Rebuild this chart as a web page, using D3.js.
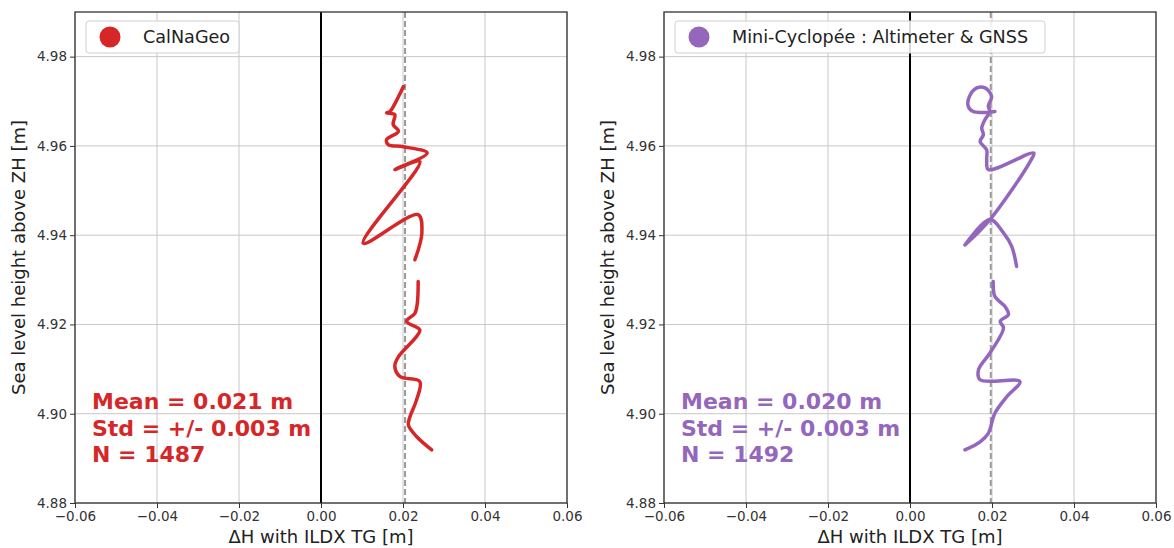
<!DOCTYPE html>
<html><head><meta charset="utf-8">
<script src="https://cdn.jsdelivr.net/npm/d3@7"></script>
<style>body{margin:0;background:#fff}svg{display:block;font-family:"DejaVu Sans",sans-serif}</style>
</head><body><svg id="c" width="1174" height="548"></svg>
<script>
// ---- data ----
const xTicks = [-0.06, -0.04, -0.02, 0.00, 0.02, 0.04, 0.06];
const yTicks = [4.88, 4.90, 4.92, 4.94, 4.96, 4.98];
const xDomain = [-0.06, 0.06];
const yDomain = [4.88, 4.99];

const calnageoUpper = [
  [0.0201,4.9733],[0.0181,4.9696],[0.0168,4.9677],[0.0160,4.9674],[0.0180,4.9670],
  [0.0176,4.9648],[0.0189,4.9633],[0.0160,4.9614],[0.0164,4.9603],[0.0201,4.9598],
  [0.0259,4.9584],[0.0180,4.9547],[0.0241,4.9565],[0.0103,4.9382],[0.0237,4.9446],
  [0.0246,4.9405],[0.0229,4.9345]
];
const calnageoLower = [
  [0.0237,4.9296],[0.0235,4.9248],[0.0229,4.9225],[0.0209,4.9207],[0.0241,4.9188],
  [0.0233,4.9173],[0.0189,4.9128],[0.0180,4.9106],[0.0193,4.9083],[0.0241,4.9072],
  [0.0233,4.9031],[0.0217,4.8993],[0.0213,4.8975],[0.0233,4.8949],[0.0270,4.8919]
];
const cyclopeeUpper = [
  [0.0260,4.9330],[0.0248,4.9375],[0.0228,4.9405],[0.0195,4.9435],[0.0134,4.9378],
  [0.0195,4.9435],[0.0293,4.9565],[0.0302,4.9584],[0.0191,4.9547],[0.0187,4.9569],
  [0.0187,4.9591],[0.0171,4.9610],[0.0179,4.9625],[0.0175,4.9640],[0.0183,4.9659],
  [0.0195,4.9677],[0.0191,4.9689],[0.0199,4.9711],[0.0183,4.9730],[0.0163,4.9730],
  [0.0145,4.9711],[0.0142,4.9689],[0.0154,4.9677],[0.0179,4.9675],[0.0207,4.9677]
];
const cyclopeeLower = [
  [0.0203,4.9296],[0.0207,4.9263],[0.0232,4.9240],[0.0240,4.9222],[0.0220,4.9207],
  [0.0228,4.9192],[0.0195,4.9136],[0.0167,4.9098],[0.0171,4.9076],[0.0268,4.9072],
  [0.0236,4.9038],[0.0207,4.9001],[0.0191,4.8956],[0.0171,4.8937],[0.0134,4.8919]
];
const labels = ["CalNaGeo", "Mini-Cyclopée : Altimeter & GNSS"];
const colors = ["#d62728", "#9467bd"];
const means = [0.0205, 0.0197];
const statLines = [
  ["Mean = 0.021 m", "Std = +/- 0.003 m", "N = 1487"],
  ["Mean = 0.020 m", "Std = +/- 0.003 m", "N = 1492"]
];
const xTitle = "ΔH with ILDX TG [m]";
const yTitle = "Sea level height above ZH [m]";

// ---- drawing ----
const svg = d3.select("#c");
const panels = [
  {x0: 75, x1: 567, segs: [calnageoUpper, calnageoLower], legendW: 153},
  {x0: 664, x1: 1156, segs: [cyclopeeUpper, cyclopeeLower], legendW: 370}
];
const yTop = 12, yBot = 503;

panels.forEach((p, i) => {
  const x = d3.scaleLinear().domain(xDomain).range([p.x0, p.x1]);
  const y = d3.scaleLinear().domain(yDomain).range([yBot, yTop]);
  const g = svg.append("g");

  // grid
  g.selectAll(".gx").data(xTicks).join("line")
    .attr("x1", d => x(d)).attr("x2", d => x(d)).attr("y1", yTop).attr("y2", yBot)
    .attr("stroke", "#c8c8c8").attr("stroke-width", 1);
  g.selectAll(".gy").data(yTicks).join("line")
    .attr("x1", p.x0).attr("x2", p.x1).attr("y1", d => y(d)).attr("y2", d => y(d))
    .attr("stroke", "#c8c8c8").attr("stroke-width", 1);

  // zero line & mean dashed line
  g.append("line").attr("x1", x(0)).attr("x2", x(0)).attr("y1", yTop).attr("y2", yBot)
    .attr("stroke", "#000").attr("stroke-width", 2);
  g.append("line").attr("x1", x(means[i])).attr("x2", x(means[i])).attr("y1", yTop).attr("y2", yBot)
    .attr("stroke", "#999").attr("stroke-width", 2).attr("stroke-dasharray", "6,3");

  // curves
  const line = d3.line().x(d => x(d[0])).y(d => y(d[1])).curve(d3.curveCatmullRom.alpha(0.5));
  p.segs.forEach(s => {
    g.append("path").attr("d", line(s)).attr("fill", "none")
      .attr("stroke", colors[i]).attr("stroke-width", 3.5)
      .attr("stroke-linejoin", "round").attr("stroke-linecap", "round");
  });

  // axes
  const ax = g.append("g").attr("transform", `translate(0,${yBot})`)
    .call(d3.axisBottom(x).tickValues(xTicks).tickFormat(d3.format(".2f")).tickSizeOuter(0).tickSize(5).tickPadding(3));
  const ay = g.append("g").attr("transform", `translate(${p.x0},0)`)
    .call(d3.axisLeft(y).tickValues(yTicks).tickFormat(d3.format(".2f")).tickSizeOuter(0).tickSize(5).tickPadding(3));
  [ax, ay].forEach(a => {
    a.select(".domain").remove();
    a.selectAll("line").attr("stroke", "#333");
    a.selectAll("text").attr("fill", "#333").attr("font-size", 13.5).attr("font-family", "DejaVu Sans");
  });

  // frame
  g.append("rect").attr("x", p.x0).attr("y", yTop).attr("width", p.x1 - p.x0).attr("height", yBot - yTop)
    .attr("fill", "none").attr("stroke", "#333").attr("stroke-width", 1.3);

  // titles
  g.append("text").attr("x", (p.x0 + p.x1) / 2).attr("y", 543).attr("text-anchor", "middle")
    .attr("font-size", 18).attr("fill", "#222").text(xTitle);
  g.append("text").attr("transform", `translate(${p.x0 - 50},${(yTop + yBot) / 2}) rotate(-90)`)
    .attr("text-anchor", "middle").attr("font-size", 18).attr("fill", "#222").text(yTitle);

  // legend
  const lx = p.x0 + 11, ly = 21;
  g.append("rect").attr("x", lx).attr("y", ly).attr("width", p.legendW).attr("height", 32).attr("rx", 3)
    .attr("fill", "#fff").attr("fill-opacity", 0.85).attr("stroke", "#d0d0d0").attr("stroke-width", 1);
  g.append("circle").attr("cx", lx + 24).attr("cy", ly + 16).attr("r", 10.5).attr("fill", colors[i]);
  g.append("text").attr("x", lx + 57).attr("y", ly + 22).attr("font-size", 17.6).attr("fill", "#222").text(labels[i]);

  // stats
  statLines[i].forEach((t, k) => {
    g.append("text").attr("x", p.x0 + 17).attr("y", 409 + k * 26.5)
      .attr("font-size", 22).attr("font-weight", "bold").attr("fill", colors[i]).text(t);
  });
});
</script></body></html>
